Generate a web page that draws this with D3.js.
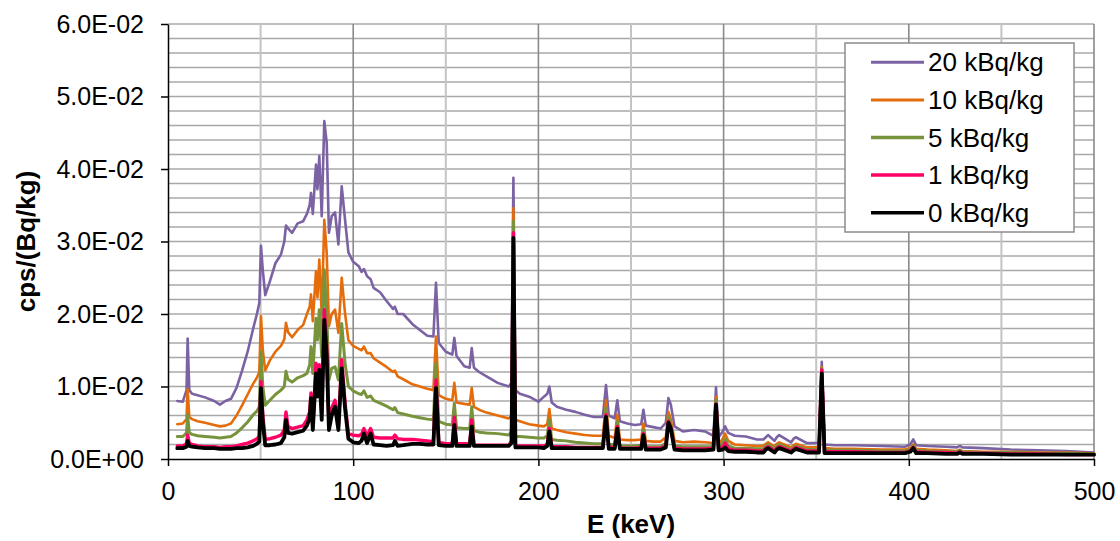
<!DOCTYPE html>
<html>
<head>
<meta charset="utf-8">
<script src="https://cdn.jsdelivr.net/npm/d3@7/dist/d3.min.js"></script>
<style>
  html, body { margin: 0; padding: 0; background: #fff; }
  svg { display: block; }
  text { font-family: "Liberation Sans", Arial, sans-serif; fill: #000; }
</style>
</head>
<body>
<svg id="chart" width="1120" height="541"></svg>
<script>
// ---------------- DATA ----------------
const energy = [
  5, 8, 10, 10.6, 11.5, 13, 16, 20, 25, 28,
  31, 34, 37, 40, 43, 46, 48, 49.3, 50.2, 51.2,
  52.5, 55, 58, 61, 62.8, 63.7, 64.8, 67, 70, 73,
  75, 76.5, 77.2, 78.2, 79.9, 80.7, 81.7, 83, 84.4, 85.7,
  86.9, 88.4, 90.2, 92, 93.8, 95.6, 97.4, 100, 103, 104.5,
  105.8, 107.5, 109.4, 111, 114.5, 118, 121.5, 122.5, 124, 127,
  132, 136, 140, 143.3, 144.7, 146.2, 150, 153.5, 154.6, 155.8,
  160, 162.9, 164, 165.2, 168, 172, 178, 184, 185.5, 186.5,
  187.6, 190, 195, 200, 203, 204.8, 205.9, 207.2, 210, 215,
  220, 225, 230, 234.8, 236.5, 238, 241.2, 242.6, 244, 248,
  252, 255.5, 256.7, 258, 262, 266, 268.8, 270.2, 271.5, 273.5,
  278, 284, 290, 294.5, 295.9, 297.3, 299.5, 300.8, 302.5, 306,
  312, 318, 321.5, 322.8, 324, 327.5, 328.7, 330, 336.5, 337.8,
  339, 345, 351.5, 353, 354.5, 360, 370, 385, 398, 400.8,
  402.4, 404, 410, 420, 426, 427.6, 429, 440, 455, 470,
  485, 500
];

const s20 = [
  0.0080, 0.0079, 0.0095, 0.0166, 0.0095, 0.0090, 0.0088, 0.0085, 0.0080, 0.0075,
  0.0080, 0.0083, 0.0098, 0.0122, 0.0148, 0.0180, 0.0200, 0.0215, 0.0294, 0.0260,
  0.0226, 0.0245, 0.0270, 0.0282, 0.0300, 0.0322, 0.0318, 0.0312, 0.0325, 0.0328,
  0.0338, 0.0350, 0.0367, 0.0338, 0.0406, 0.0372, 0.0418, 0.0335, 0.0466, 0.0436,
  0.0312, 0.0335, 0.0340, 0.0296, 0.0376, 0.0330, 0.0285, 0.0272, 0.0266, 0.0258,
  0.0262, 0.0252, 0.0248, 0.0236, 0.0230, 0.0218, 0.0207, 0.0210, 0.0200, 0.0200,
  0.0186, 0.0178, 0.0170, 0.0169, 0.0243, 0.0160, 0.0148, 0.0144, 0.0167, 0.0142,
  0.0128, 0.0126, 0.0153, 0.0126, 0.0120, 0.0114, 0.0105, 0.0100, 0.0105, 0.0388,
  0.0095, 0.0090, 0.0086, 0.0079, 0.0086, 0.0090, 0.0100, 0.0078, 0.0072, 0.0068,
  0.0065, 0.0061, 0.0058, 0.0058, 0.0102, 0.0060, 0.0056, 0.0081, 0.0052, 0.0049,
  0.0047, 0.0048, 0.0068, 0.0046, 0.0044, 0.0042, 0.0050, 0.0084, 0.0075, 0.0045,
  0.0038, 0.0040, 0.0038, 0.0032, 0.0099, 0.0030, 0.0038, 0.0045, 0.0036, 0.0032,
  0.0031, 0.0027, 0.0027, 0.0030, 0.0033, 0.0025, 0.0030, 0.0033, 0.0023, 0.0028,
  0.0030, 0.0022, 0.0022, 0.0134, 0.0020, 0.0019, 0.0019, 0.0018, 0.0017, 0.0020,
  0.0027, 0.0019, 0.0018, 0.0017, 0.0016, 0.0018, 0.0016, 0.0015, 0.0013, 0.0012,
  0.0011, 0.0009
];

const s10 = [
  0.0048, 0.0049, 0.0055, 0.0096, 0.0058, 0.0055, 0.0052, 0.0050, 0.0047, 0.0045,
  0.0046, 0.0049, 0.0060, 0.0074, 0.0089, 0.0104, 0.0112, 0.0120, 0.0197, 0.0150,
  0.0122, 0.0136, 0.0148, 0.0156, 0.0165, 0.0188, 0.0175, 0.0168, 0.0178, 0.0185,
  0.0200, 0.0210, 0.0227, 0.0190, 0.0259, 0.0223, 0.0275, 0.0199, 0.0330, 0.0284,
  0.0183, 0.0200, 0.0206, 0.0174, 0.0250, 0.0201, 0.0164, 0.0156, 0.0152, 0.0150,
  0.0155, 0.0146, 0.0146, 0.0139, 0.0133, 0.0127, 0.0120, 0.0122, 0.0114, 0.0110,
  0.0103, 0.0100, 0.0097, 0.0095, 0.0169, 0.0088, 0.0083, 0.0081, 0.0105, 0.0078,
  0.0076, 0.0075, 0.0098, 0.0072, 0.0068, 0.0064, 0.0060, 0.0056, 0.0060, 0.0346,
  0.0054, 0.0052, 0.0048, 0.0046, 0.0045, 0.0048, 0.0069, 0.0042, 0.0040, 0.0037,
  0.0035, 0.0033, 0.0032, 0.0032, 0.0081, 0.0032, 0.0029, 0.0061, 0.0027, 0.0026,
  0.0026, 0.0027, 0.0049, 0.0025, 0.0024, 0.0024, 0.0030, 0.0065, 0.0055, 0.0025,
  0.0023, 0.0024, 0.0023, 0.0022, 0.0086, 0.0020, 0.0028, 0.0035, 0.0025, 0.0020,
  0.0019, 0.0018, 0.0018, 0.0021, 0.0023, 0.0017, 0.0021, 0.0023, 0.0016, 0.0019,
  0.0021, 0.0016, 0.0016, 0.0127, 0.0015, 0.0014, 0.0014, 0.0013, 0.0013, 0.0015,
  0.0020, 0.0014, 0.0013, 0.0012, 0.0011, 0.0013, 0.0011, 0.0010, 0.0010, 0.0009,
  0.0009, 0.0008
];

const s5 = [
  0.0031, 0.0031, 0.0036, 0.0061, 0.0036, 0.0034, 0.0032, 0.0031, 0.0030, 0.0029,
  0.0030, 0.0031, 0.0036, 0.0043, 0.0051, 0.0061, 0.0066, 0.0072, 0.0148, 0.0100,
  0.0074, 0.0081, 0.0089, 0.0095, 0.0100, 0.0121, 0.0110, 0.0106, 0.0112, 0.0115,
  0.0118, 0.0130, 0.0155, 0.0118, 0.0194, 0.0164, 0.0206, 0.0141, 0.0261, 0.0201,
  0.0109, 0.0125, 0.0127, 0.0109, 0.0187, 0.0132, 0.0100, 0.0094, 0.0090, 0.0089,
  0.0094, 0.0085, 0.0087, 0.0081, 0.0077, 0.0073, 0.0068, 0.0071, 0.0064, 0.0062,
  0.0059, 0.0057, 0.0055, 0.0054, 0.0132, 0.0052, 0.0048, 0.0047, 0.0077, 0.0043,
  0.0042, 0.0042, 0.0072, 0.0039, 0.0037, 0.0036, 0.0035, 0.0033, 0.0038, 0.0328,
  0.0031, 0.0031, 0.0030, 0.0029, 0.0029, 0.0032, 0.0054, 0.0027, 0.0026, 0.0025,
  0.0023, 0.0022, 0.0021, 0.0021, 0.0070, 0.0021, 0.0019, 0.0052, 0.0018, 0.0018,
  0.0018, 0.0019, 0.0040, 0.0017, 0.0017, 0.0017, 0.0022, 0.0058, 0.0048, 0.0018,
  0.0017, 0.0017, 0.0017, 0.0017, 0.0081, 0.0016, 0.0022, 0.0028, 0.0018, 0.0015,
  0.0015, 0.0014, 0.0014, 0.0018, 0.0020, 0.0014, 0.0018, 0.0020, 0.0013, 0.0016,
  0.0018, 0.0013, 0.0013, 0.0125, 0.0012, 0.0012, 0.0012, 0.0011, 0.0011, 0.0013,
  0.0018, 0.0012, 0.0011, 0.0010, 0.0010, 0.0012, 0.0010, 0.0009, 0.0009, 0.0008,
  0.0008, 0.0007
];

const s1 = [
  0.0018, 0.0018, 0.0021, 0.0033, 0.0022, 0.0020, 0.0018, 0.0017, 0.0017, 0.0016,
  0.0017, 0.0017, 0.0018, 0.0020, 0.0022, 0.0025, 0.0028, 0.0031, 0.0107, 0.0060,
  0.0027, 0.0028, 0.0030, 0.0033, 0.0040, 0.0065, 0.0045, 0.0042, 0.0044, 0.0046,
  0.0054, 0.0065, 0.0091, 0.0045, 0.0132, 0.0109, 0.0130, 0.0063, 0.0206, 0.0155,
  0.0045, 0.0070, 0.0081, 0.0045, 0.0137, 0.0077, 0.0035, 0.0033, 0.0032, 0.0034,
  0.0042, 0.0031, 0.0042, 0.0030, 0.0029, 0.0029, 0.0029, 0.0033, 0.0028, 0.0027,
  0.0027, 0.0026, 0.0025, 0.0024, 0.0109, 0.0023, 0.0021, 0.0021, 0.0058, 0.0021,
  0.0021, 0.0021, 0.0054, 0.0019, 0.0019, 0.0019, 0.0019, 0.0019, 0.0025, 0.0312,
  0.0018, 0.0018, 0.0018, 0.0018, 0.0018, 0.0020, 0.0042, 0.0017, 0.0017, 0.0017,
  0.0016, 0.0016, 0.0016, 0.0016, 0.0061, 0.0016, 0.0016, 0.0045, 0.0015, 0.0015,
  0.0015, 0.0016, 0.0035, 0.0015, 0.0015, 0.0015, 0.0018, 0.0052, 0.0044, 0.0015,
  0.0014, 0.0014, 0.0014, 0.0015, 0.0076, 0.0014, 0.0016, 0.0022, 0.0014, 0.0012,
  0.0012, 0.0011, 0.0011, 0.0015, 0.0017, 0.0011, 0.0015, 0.0017, 0.0011, 0.0014,
  0.0016, 0.0011, 0.0011, 0.0123, 0.0010, 0.0010, 0.0010, 0.0009, 0.0009, 0.0011,
  0.0016, 0.0010, 0.0009, 0.0009, 0.0008, 0.0010, 0.0008, 0.0008, 0.0007, 0.0007,
  0.0006, 0.0006
];

const s0 = [
  0.0015, 0.0015, 0.0017, 0.0025, 0.0018, 0.0017, 0.0016, 0.0015, 0.0015, 0.0014,
  0.0014, 0.0014, 0.0015, 0.0015, 0.0016, 0.0018, 0.0021, 0.0024, 0.0098, 0.0050,
  0.0019, 0.0019, 0.0020, 0.0022, 0.0030, 0.0054, 0.0036, 0.0035, 0.0037, 0.0039,
  0.0046, 0.0056, 0.0084, 0.0040, 0.0118, 0.0086, 0.0123, 0.0054, 0.0192, 0.0141,
  0.0040, 0.0060, 0.0072, 0.0040, 0.0125, 0.0070, 0.0028, 0.0023, 0.0022, 0.0025,
  0.0035, 0.0022, 0.0035, 0.0020, 0.0019, 0.0018, 0.0019, 0.0025, 0.0018, 0.0019,
  0.0021, 0.0021, 0.0020, 0.0020, 0.0098, 0.0019, 0.0018, 0.0018, 0.0047, 0.0018,
  0.0018, 0.0018, 0.0045, 0.0018, 0.0018, 0.0018, 0.0018, 0.0018, 0.0022, 0.0305,
  0.0016, 0.0016, 0.0016, 0.0016, 0.0015, 0.0018, 0.0038, 0.0015, 0.0015, 0.0015,
  0.0015, 0.0015, 0.0015, 0.0015, 0.0058, 0.0014, 0.0014, 0.0042, 0.0014, 0.0014,
  0.0014, 0.0014, 0.0033, 0.0013, 0.0013, 0.0013, 0.0016, 0.0050, 0.0042, 0.0013,
  0.0012, 0.0012, 0.0012, 0.0013, 0.0075, 0.0012, 0.0013, 0.0016, 0.0011, 0.0010,
  0.0010, 0.0009, 0.0009, 0.0013, 0.0015, 0.0009, 0.0013, 0.0015, 0.0009, 0.0012,
  0.0014, 0.0009, 0.0009, 0.0118, 0.0008, 0.0008, 0.0008, 0.0008, 0.0008, 0.0010,
  0.0015, 0.0008, 0.0008, 0.0007, 0.0007, 0.0009, 0.0007, 0.0007, 0.0006, 0.0006,
  0.0006, 0.0006
];

const seriesNames = ["20 kBq/kg", "10 kBq/kg", "5 kBq/kg", "1 kBq/kg", "0 kBq/kg"];
const seriesValues = [s20, s10, s5, s1, s0];
const seriesColors = ["#7B62A3", "#E46C0A", "#77933C", "#FF0066", "#000000"];
const seriesWidths = [2.6, 2.6, 3, 3.4, 3.8];

const xTicks = [0, 100, 200, 300, 400, 500];
const xTickLabels = ["0", "100", "200", "300", "400", "500"];
const yTicks = [0, 0.01, 0.02, 0.03, 0.04, 0.05, 0.06];
const yTickLabels = ["0.0E+00", "1.0E-02", "2.0E-02", "3.0E-02", "4.0E-02", "5.0E-02", "6.0E-02"];
const xTitle = "E (keV)";
const yTitle = "cps/(Bq/kg)";

// ---------------- CHART ----------------
const svg = d3.select("#chart");
const L = 168, R = 1094, T = 24, B = 459;

const x = d3.scaleLinear().domain([0, 500]).range([L, R]);
const y = d3.scaleLinear().domain([0, 0.06]).range([B, T]);

// horizontal grid (every 0.002)
const hGrid = d3.range(1, 31).map(i => i * 0.002);
svg.append("g").selectAll("line").data(hGrid).join("line")
  .attr("x1", L).attr("x2", R)
  .attr("y1", d => y(d)).attr("y2", d => y(d))
  .attr("stroke", "#a8a8a8").attr("stroke-width", 1.6);

// vertical grid
const vMinor = [50, 150, 250, 350, 450];
const vMajor = [100, 200, 300, 400, 500];
svg.append("g").selectAll("line").data(vMinor).join("line")
  .attr("x1", d => x(d)).attr("x2", d => x(d))
  .attr("y1", T).attr("y2", B)
  .attr("stroke", "#c4c4c4").attr("stroke-width", 2);
svg.append("g").selectAll("line").data(vMajor).join("line")
  .attr("x1", d => x(d)).attr("x2", d => x(d))
  .attr("y1", T).attr("y2", B)
  .attr("stroke", "#8a8a8a").attr("stroke-width", 1.6);

// clip
svg.append("clipPath").attr("id", "plotclip")
  .append("rect").attr("x", L).attr("y", T - 2).attr("width", R - L + 2).attr("height", B - T + 2);

// lines
const line = d3.line().x((d, i) => x(energy[i])).y(d => y(d));
const gLines = svg.append("g").attr("clip-path", "url(#plotclip)");
seriesValues.forEach((vals, k) => {
  gLines.append("path")
    .datum(vals)
    .attr("d", line)
    .attr("fill", "none")
    .attr("stroke", seriesColors[k])
    .attr("stroke-width", seriesWidths[k])
    .attr("stroke-linejoin", "round")
    .attr("stroke-linecap", "round");
});

// axes
const yAxis = d3.axisLeft(y).tickValues(yTicks)
  .tickFormat((d, i) => yTickLabels[i]).tickSizeInner(7).tickSizeOuter(0).tickPadding(17);
const gy = svg.append("g").attr("transform", `translate(${L},0)`).call(yAxis);
gy.select(".domain").attr("stroke", "#000").attr("stroke-width", 1.5);
gy.selectAll(".tick line").attr("stroke", "#000").attr("stroke-width", 1.5);
gy.selectAll(".tick text").attr("font-size", 25).attr("font-family", "Liberation Sans, Arial, sans-serif").attr("fill", "#000");

const xAxis = d3.axisBottom(x).tickValues(xTicks)
  .tickFormat((d, i) => xTickLabels[i]).tickSizeInner(7).tickSizeOuter(0).tickPadding(16);
const gx = svg.append("g").attr("transform", `translate(0,${B})`).call(xAxis);
gx.select(".domain").attr("stroke", "#000").attr("stroke-width", 1.5);
gx.selectAll(".tick line").attr("stroke", "#000").attr("stroke-width", 1.5);
gx.selectAll(".tick text").attr("font-size", 25).attr("font-family", "Liberation Sans, Arial, sans-serif").attr("fill", "#000");

// titles
svg.append("text").attr("x", (L + R) / 2).attr("y", 533)
  .attr("text-anchor", "middle").attr("font-size", 26).attr("font-weight", "bold").text(xTitle);
svg.append("text").attr("transform", `translate(35,${(T + B) / 2}) rotate(-90)`)
  .attr("text-anchor", "middle").attr("font-size", 26).attr("font-weight", "bold").text(yTitle);

// legend
const lg = svg.append("g");
lg.append("rect").attr("x", 845).attr("y", 43).attr("width", 229).attr("height", 189)
  .attr("fill", "#fff").attr("stroke", "#8c8c8c").attr("stroke-width", 1.5);
const rowY = d3.scaleLinear().domain([0, 4]).range([62.3, 212.7]);
seriesNames.forEach((name, k) => {
  lg.append("line").attr("x1", 871).attr("x2", 924)
    .attr("y1", rowY(k)).attr("y2", rowY(k))
    .attr("stroke", seriesColors[k]).attr("stroke-width", k < 2 ? 3 : 3.5);
  lg.append("text").attr("x", 928).attr("y", rowY(k)).attr("dy", "0.35em")
    .attr("font-size", 26).text(name);
});
</script>
</body>
</html>
